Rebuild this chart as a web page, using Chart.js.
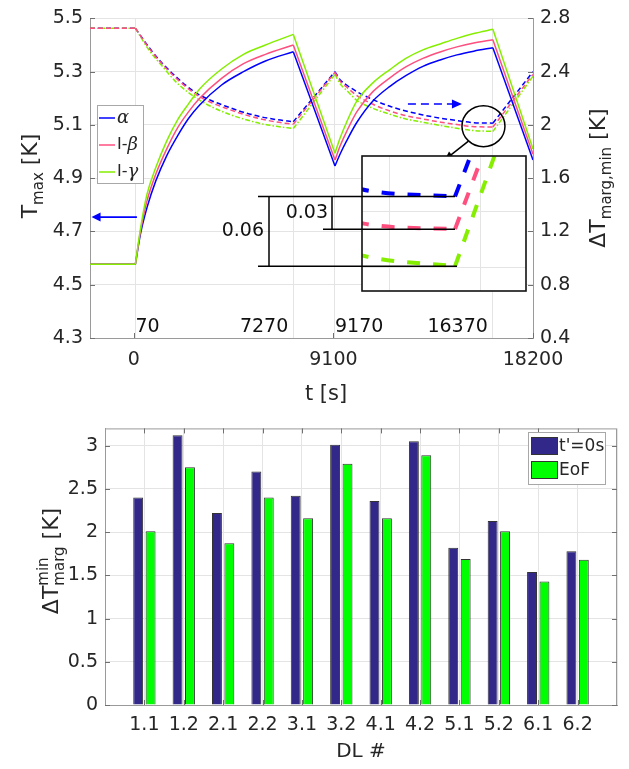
<!DOCTYPE html>
<html><head><meta charset="utf-8">
<script src="https://cdn.jsdelivr.net/npm/chart.js@4.4.1/dist/chart.umd.min.js"></script>
<style>
html,body{margin:0;padding:0;background:#fff;}
#wrap{position:relative;width:629px;height:769px;overflow:hidden;background:#fff;}
canvas{position:absolute;}
</style></head><body>
<div id="wrap">
<canvas id="top" width="629" height="410" style="left:0;top:0"></canvas>
<canvas id="inset" width="330" height="150" style="left:200px;top:150px"></canvas>
<canvas id="bars" width="629" height="359" style="left:0;top:410px"></canvas>
</div>
<script>
// ---------------- DATA ----------------
// Top panel: time axis [s]
const tSolid = [-2000, 70, 300, 600, 1000, 1500, 2000, 2500, 3000, 4000, 5000, 6000, 7270, 9170, 9400, 9700, 10171, 10900, 11676, 12400, 13181, 14000, 14732, 15500, 16370, 18200];
const tmaxAlpha = [4.577, 4.577, 4.69, 4.79, 4.89, 4.985, 5.06, 5.125, 5.175, 5.25, 5.30, 5.34, 5.375, 4.946, 4.99, 5.04, 5.11, 5.19, 5.245, 5.285, 5.32, 5.345, 5.363, 5.377, 5.39, 4.968];
const tmaxBeta  = [4.577, 4.577, 4.70, 4.815, 4.915, 5.01, 5.09, 5.15, 5.20, 5.275, 5.33, 5.365, 5.40, 4.968, 5.02, 5.075, 5.15, 5.225, 5.277, 5.318, 5.35, 5.375, 5.393, 5.408, 5.42, 4.99];
const tmaxGamma = [4.577, 4.577, 4.71, 4.84, 4.94, 5.04, 5.12, 5.18, 5.235, 5.31, 5.365, 5.40, 5.44, 4.994, 5.05, 5.11, 5.19, 5.258, 5.308, 5.35, 5.382, 5.405, 5.425, 5.443, 5.459, 5.01];

const tDash = [-2000, 70, 700, 1231, 2000, 2782, 3500, 4287, 5000, 5792, 6500, 7270, 9170, 9400, 9700, 10171, 10900, 11676, 12400, 13181, 14000, 14732, 15436, 16370, 18200];
const dtAlpha = [2.726, 2.726, 2.58, 2.475, 2.35, 2.246, 2.185, 2.135, 2.095, 2.061, 2.04, 2.024, 2.40, 2.34, 2.30, 2.25, 2.19, 2.14, 2.105, 2.075, 2.05, 2.033, 2.018, 2.013, 2.40];
const dtBeta  = [2.726, 2.726, 2.575, 2.468, 2.34, 2.235, 2.17, 2.12, 2.08, 2.045, 2.022, 2.005, 2.395, 2.33, 2.285, 2.22, 2.155, 2.105, 2.07, 2.045, 2.02, 2.003, 1.988, 1.984, 2.38];
const dtGamma = [2.726, 2.726, 2.56, 2.453, 2.31, 2.209, 2.14, 2.084, 2.045, 2.01, 1.99, 1.973, 2.38, 2.31, 2.26, 2.185, 2.125, 2.08, 2.045, 2.02, 1.995, 1.975, 1.959, 1.951, 2.365];

const seriesLabels = ['α', 'I-β', 'I-γ'];
const phaseBreaks = [70, 7270, 9170, 16370];   // operating-phase switch times

const leftTickVals = [4.3, 4.5, 4.7, 4.9, 5.1, 5.3, 5.5];
const leftTickLabels = ['4.3', '4.5', '4.7', '4.9', '5.1', '5.3', '5.5'];
const rightTickVals = [0.4, 0.8, 1.2, 1.6, 2.0, 2.4, 2.8];
const rightTickLabels = ['0.4', '0.8', '1.2', '1.6', '2', '2.4', '2.8'];
const xTickVals = [0, 70, 7270, 9100, 9170, 16370, 18200];
const xTickLabels = ['0', '', '', '9100', '', '', '18200'];
const periodVals = [70, 7270, 9170, 16370];
const periodLabels = ['70', '7270', '9170', '16370'];

// inset zoom
const insetXGrid = [15650, 16650];
const insetYGrid = [1.95, 2.0];
const cornerTime = 16370;
const diffLabels = ['0.03', '0.06'];

// Bottom panel
const dlCats = ['1.1', '1.2', '2.1', '2.2', '3.1', '3.2', '4.1', '4.2', '5.1', '5.2', '6.1', '6.2'];
const dtStart = [2.40, 3.12, 2.22, 2.70, 2.42, 3.01, 2.36, 3.05, 1.82, 2.13, 1.54, 1.78];
const dtEoF   = [2.01, 2.75, 1.87, 2.40, 2.16, 2.79, 2.16, 2.89, 1.69, 2.01, 1.43, 1.68];
const barTickVals = [0, 0.5, 1, 1.5, 2, 2.5, 3];
const barTickLabels = ['0', '0.5', '1', '1.5', '2', '2.5', '3'];
const barSeriesLabels = ["t'=0s", 'EoF'];

// ---------------- STYLE ----------------
const FONT = "'DejaVu Sans', 'Liberation Sans', sans-serif";
const TXT = '#262626';
const COL = {a: '#0000ff', b: '#ff4f7f', g: '#86ee00'};
const GRID = '#e4e4e4';
const AXIS = '#9a9a9a';

const setTicks = vals => s => { s.ticks = vals.map(v => ({value: v})); };

// split a series into its operating phases (each drawn as its own smooth piece)
function phaseSplit(ts, vs) {
  const out = []; let cur = [];
  ts.forEach((t, i) => {
    cur.push({x: t, y: vs[i]});
    if (phaseBreaks.includes(t)) { out.push(cur); cur = [{x: t, y: vs[i]}]; }
  });
  if (cur.length > 1) out.push(cur);
  return out;
}
function seriesDatasets(ts, vs, style, legendRank) {
  return phaseSplit(ts, vs).map((data, k) => Object.assign({
    data, cubicInterpolationMode: 'monotone', legend: k === 0 ? legendRank : undefined
  }, style));
}

function line(ctx, x1, y1, x2, y2) { ctx.beginPath(); ctx.moveTo(x1, y1); ctx.lineTo(x2, y2); ctx.stroke(); }
function arrowHead(ctx, x1, y1, x2, y2, len, half, color) {
  const a = Math.atan2(y2 - y1, x2 - x1);
  ctx.fillStyle = color; ctx.beginPath(); ctx.moveTo(x2, y2);
  ctx.lineTo(x2 - len * Math.cos(a) + half * Math.sin(a), y2 - len * Math.sin(a) - half * Math.cos(a));
  ctx.lineTo(x2 - len * Math.cos(a) - half * Math.sin(a), y2 - len * Math.sin(a) + half * Math.cos(a));
  ctx.closePath(); ctx.fill();
}
function fontStr(p) { return `${p.italic ? 'italic ' : ''}${p.size}px ${p.family || FONT}`; }
function drawParts(ctx, cx, cy, rot, parts) {
  ctx.save(); ctx.translate(cx, cy); ctx.rotate(rot);
  ctx.textBaseline = 'alphabetic'; ctx.textAlign = 'left';
  const widths = parts.map(p => {
    const items = p.stack || [p];
    return Math.max(...items.map(q => { ctx.font = fontStr(q); return ctx.measureText(q.t).width; }));
  });
  const total = widths.reduce((a, b) => a + b, 0);
  let x = -total / 2;
  parts.forEach((p, i) => {
    (p.stack || [p]).forEach(q => { ctx.font = fontStr(q); ctx.fillStyle = q.color || TXT; ctx.fillText(q.t, x, q.dy || 0); });
    x += widths[i];
  });
  ctx.restore();
}
function drawLabelGreek(ctx, text, x, y, size) {
  let cx = x;
  for (const ch of text) {
    const greek = /[α-ω]/.test(ch);
    ctx.font = greek ? `italic ${size + 2}px 'DejaVu Serif', serif` : `${size}px ${FONT}`;
    ctx.fillText(ch, cx, y);
    cx += ctx.measureText(ch).width;
  }
}

// ---------------- TOP CHART ----------------
const topDecor = {
  id: 'topDecor',
  afterDraw(chart) {
    const {ctx, chartArea: ca, scales: {x, y, y2}} = chart;
    ctx.save();
    ctx.strokeStyle = '#707070'; ctx.lineWidth = 1;
    leftTickVals.forEach(v => { const py = Math.round(y.getPixelForValue(v)) + 0.5; line(ctx, ca.left, py, ca.left + 5, py); });
    rightTickVals.forEach(v => { const py = Math.round(y2.getPixelForValue(v)) + 0.5; line(ctx, ca.right - 5, py, ca.right, py); });
    xTickVals.forEach((v, i) => { if (xTickLabels[i]) { const px = Math.round(x.getPixelForValue(v)) + 0.5; line(ctx, px, ca.bottom, px, ca.bottom - 5); } });

    ctx.font = `19px ${FONT}`; ctx.fillStyle = '#111'; ctx.textBaseline = 'middle';
    periodVals.forEach((v, i) => {
      const px = x.getPixelForValue(v);
      const left = i % 2 === 0;
      ctx.textAlign = left ? 'left' : 'right';
      ctx.fillText(periodLabels[i], px + (left ? 0 : -5), ca.bottom - 11);
    });

    // legend
    const lx = 97, ly = 105, lw = 46, lh = 78;
    ctx.fillStyle = '#fff'; ctx.fillRect(lx, ly, lw, lh);
    ctx.strokeStyle = '#a8a8a8'; ctx.lineWidth = 1; ctx.strokeRect(lx + 0.5, ly + 0.5, lw, lh);
    const solid = chart.data.datasets.filter(d => d.legend).sort((a, b) => a.legend - b.legend);
    solid.forEach((d, i) => {
      const yy = ly + 13 + i * 27;
      ctx.strokeStyle = d.borderColor; ctx.lineWidth = 1.5; line(ctx, lx + 2, yy, lx + 18, yy);
      ctx.fillStyle = TXT; ctx.textAlign = 'left'; ctx.textBaseline = 'middle';
      drawLabelGreek(ctx, d.label, lx + 20, yy, 16);
    });

    // blue arrow (solid -> left axis)
    const ay = y.getPixelForValue(4.754);
    const ax1 = x.getPixelForValue(140), ax2 = x.getPixelForValue(-1930);
    ctx.strokeStyle = COL.a; ctx.lineWidth = 1.6; line(ctx, ax1, ay, ax2 + 6, ay);
    arrowHead(ctx, ax1, ay, ax2, ay, 9, 4.5, COL.a);
    // blue dashed arrow (dashed -> right axis)
    const by = y2.getPixelForValue(2.157);
    const bx1 = x.getPixelForValue(12497), bx2 = x.getPixelForValue(14960);
    ctx.setLineDash([8, 5]); line(ctx, bx1, by, bx2 - 8, by); ctx.setLineDash([]);
    arrowHead(ctx, bx1, by, bx2, by, 10, 4.5, COL.a);

    // circle + arrow to inset
    const cx = x.getPixelForValue(15941), cy = y2.getPixelForValue(1.991);
    ctx.strokeStyle = '#000'; ctx.lineWidth = 1.5;
    ctx.beginPath(); ctx.ellipse(cx, cy, 21.5, 20.5, 0, 0, Math.PI * 2); ctx.stroke();
    const p1 = [cx - 15, cy + 15], p2 = [cx - 39, cy + 34];
    line(ctx, p1[0], p1[1], p2[0] + 4, p2[1] - 3.3);
    arrowHead(ctx, p1[0], p1[1], p2[0], p2[1], 9, 4, '#000');

    // axis titles
    drawParts(ctx, 37, 176, -Math.PI / 2, [{t: 'T', size: 22}, {t: 'max', size: 15, dy: 6}, {t: ' [K]', size: 22}]);
    drawParts(ctx, 605, 178, -Math.PI / 2, [{t: 'ΔT', size: 22}, {t: 'marg,min', size: 15, dy: 6}, {t: ' [K]', size: 22}]);
    ctx.font = `21px ${FONT}`; ctx.fillStyle = TXT; ctx.textAlign = 'center'; ctx.textBaseline = 'middle';
    ctx.fillText('t [s]', 326, 395);
    ctx.restore();
  }
};

const solidStyle = c => ({borderColor: c, borderWidth: 1.5, yAxisID: 'y'});
const dashStyle = (c, dash) => ({borderColor: c, borderWidth: 1.5, borderDash: dash, yAxisID: 'y2'});

new Chart(document.getElementById('top'), {
  type: 'line',
  data: {
    datasets: [
      ...seriesDatasets(tSolid, tmaxGamma, Object.assign({label: seriesLabels[2]}, solidStyle(COL.g)), 3),
      ...seriesDatasets(tSolid, tmaxBeta, Object.assign({label: seriesLabels[1]}, solidStyle(COL.b)), 2),
      ...seriesDatasets(tSolid, tmaxAlpha, Object.assign({label: seriesLabels[0]}, solidStyle(COL.a)), 1),
      ...seriesDatasets(tDash, dtBeta, Object.assign({label: seriesLabels[1] + ' ΔT'}, dashStyle(COL.b, [5, 3])), 0),
      ...seriesDatasets(tDash, dtGamma, Object.assign({label: seriesLabels[2] + ' ΔT'}, dashStyle(COL.g, [5, 2, 1.5, 2])), 0),
      ...seriesDatasets(tDash, dtAlpha, Object.assign({label: seriesLabels[0] + ' ΔT'}, dashStyle(COL.a, [5, 3])), 0)
    ]
  },
  options: {
    responsive: false, animation: false,
    layout: {padding: {top: 13, left: 0, right: 0, bottom: 0}},
    plugins: {legend: {display: false}, tooltip: {enabled: false}},
    elements: {point: {radius: 0}},
    scales: {
      x: {
        type: 'linear', min: -2000, max: 18200,
        afterFit: s => { s.height = 72; },
        afterBuildTicks: setTicks(xTickVals),
        ticks: {autoSkip: false, maxRotation: 0, padding: 11, font: {family: FONT, size: 19}, color: TXT,
          callback: (v, i) => xTickLabels[i]},
        grid: {drawTicks: false, color: c => (c.tick && xTickLabels[c.index]) ? 'rgba(0,0,0,0)' : GRID},
        border: {color: AXIS}
      },
      y: {
        position: 'left', min: 4.3, max: 5.5,
        afterFit: s => { s.width = 90; },
        afterBuildTicks: setTicks(leftTickVals),
        ticks: {padding: 7, font: {family: FONT, size: 19}, color: TXT, callback: (v, i) => leftTickLabels[i]},
        grid: {drawTicks: false, color: GRID},
        border: {color: AXIS}
      },
      y2: {
        position: 'right', min: 0.4, max: 2.8,
        afterFit: s => { s.width = 96; },
        afterBuildTicks: setTicks(rightTickVals),
        ticks: {padding: 7, font: {family: FONT, size: 19}, color: TXT, callback: (v, i) => rightTickLabels[i]},
        grid: {drawTicks: false, drawOnChartArea: false},
        border: {color: AXIS}
      }
    }
  },
  plugins: [topDecor]
});

// ---------------- INSET ----------------
const insetBg = {
  id: 'insetBg',
  beforeDraw(chart) {
    const {ctx, chartArea: ca} = chart;
    ctx.save(); ctx.fillStyle = '#fff'; ctx.fillRect(ca.left, ca.top, ca.right - ca.left, ca.bottom - ca.top); ctx.restore();
  },
  afterDraw(chart) {
    const {ctx, chartArea: ca, scales: {x, y}} = chart;
    ctx.save();
    ctx.strokeStyle = '#111'; ctx.lineWidth = 1.6;
    ctx.strokeRect(ca.left, ca.top, ca.right - ca.left, ca.bottom - ca.top);
    const ci = tDash.indexOf(cornerTime);
    const cx = x.getPixelForValue(cornerTime);
    const yb = y.getPixelForValue(dtAlpha[ci]), yr = y.getPixelForValue(dtBeta[ci]), yg = y.getPixelForValue(dtGamma[ci]);
    ctx.lineWidth = 1.5; ctx.strokeStyle = '#000';
    line(ctx, 58, yb, cx, yb);
    line(ctx, 123, yr, cx, yr);
    line(ctx, 58, yg, cx + 2, yg);
    line(ctx, 69, yb, 69, yg);
    line(ctx, 132, yb, 132, yr);
    ctx.font = `19px ${FONT}`; ctx.fillStyle = '#111'; ctx.textAlign = 'right'; ctx.textBaseline = 'middle';
    ctx.fillText(diffLabels[1], 64, (yb + yg) / 2);
    ctx.fillText(diffLabels[0], 128, (yb + yr) / 2);
    ctx.restore();
  }
};
const insetStyle = c => ({borderColor: c, borderWidth: 4, borderDash: [13, 13]});
new Chart(document.getElementById('inset'), {
  type: 'line',
  data: {
    datasets: [
      ...seriesDatasets(tDash, dtAlpha, insetStyle(COL.a), 0),
      ...seriesDatasets(tDash, dtBeta, insetStyle(COL.b), 0),
      ...seriesDatasets(tDash, dtGamma, insetStyle(COL.g), 0)
    ]
  },
  options: {
    responsive: false, animation: false,
    layout: {padding: {left: 162, right: 4, top: 6, bottom: 9}},
    plugins: {legend: {display: false}, tooltip: {enabled: false}},
    elements: {point: {radius: 0}},
    scales: {
      x: {type: 'linear', min: 15348, max: 17150, afterBuildTicks: setTicks(insetXGrid),
        ticks: {display: false}, grid: {drawTicks: false, color: GRID}, border: {display: false}, afterFit: s => { s.height = 0; }},
      y: {min: 1.929, max: 2.049, afterBuildTicks: setTicks(insetYGrid),
        ticks: {display: false}, grid: {drawTicks: false, color: GRID}, border: {display: false}, afterFit: s => { s.width = 0; }}
    }
  },
  plugins: [insetBg]
});

// ---------------- BAR CHART ----------------
const barDecor = {
  id: 'barDecor',
  afterDraw(chart) {
    const {ctx, chartArea: ca, scales: {x, y}} = chart;
    ctx.save();
    ctx.strokeStyle = AXIS; ctx.lineWidth = 1;
    ctx.strokeRect(ca.left + 0.5, ca.top + 0.5, ca.right - ca.left - 1, ca.bottom - ca.top);
    ctx.strokeStyle = '#707070';
    dlCats.forEach((c, i) => {
      const px = Math.round(x.getPixelForValue(i + 1)) + 0.5;
      line(ctx, px, ca.top, px, ca.top + 5); line(ctx, px, ca.bottom, px, ca.bottom - 5);
    });
    barTickVals.forEach(v => {
      const py = Math.round(y.getPixelForValue(v)) + 0.5;
      line(ctx, ca.left, py, ca.left + 5, py); line(ctx, ca.right - 5, py, ca.right, py);
    });
    const lx = 528, ly = 22, lw = 77, lh = 52;
    ctx.fillStyle = '#fff'; ctx.fillRect(lx, ly, lw, lh);
    ctx.strokeStyle = '#a8a8a8'; ctx.strokeRect(lx + 0.5, ly + 0.5, lw, lh);
    chart.data.datasets.forEach((d, i) => {
      const sy = ly + 5 + i * 24;
      ctx.fillStyle = d.backgroundColor; ctx.fillRect(lx + 3, sy, 27, 18);
      ctx.strokeStyle = '#333'; ctx.strokeRect(lx + 3.5, sy + 0.5, 26, 17);
      ctx.fillStyle = TXT; ctx.font = `17px ${FONT}`; ctx.textAlign = 'left'; ctx.textBaseline = 'middle';
      ctx.fillText(d.label, lx + 31, sy + 10);
    });
    drawParts(ctx, 58, 151, -Math.PI / 2, [{t: 'ΔT', size: 22}, {stack: [{t: 'min', size: 15, dy: -10}, {t: 'marg', size: 15, dy: 6}]}, {t: ' [K]', size: 22}]);
    ctx.font = `20px ${FONT}`; ctx.fillStyle = TXT; ctx.textAlign = 'center'; ctx.textBaseline = 'middle';
    ctx.fillText('DL #', 361, 342);
    ctx.restore();
  }
};
new Chart(document.getElementById('bars'), {
  type: 'bar',
  data: {
    labels: ['', ...dlCats, ''],
    datasets: [
      {label: barSeriesLabels[0], data: [null, ...dtStart, null], backgroundColor: '#31288a', borderColor: '#333', borderWidth: 1, categoryPercentage: 0.63, barPercentage: 0.8},
      {label: barSeriesLabels[1], data: [null, ...dtEoF, null], backgroundColor: '#00ff00', borderColor: '#333', borderWidth: 1, categoryPercentage: 0.63, barPercentage: 0.8}
    ]
  },
  options: {
    responsive: false, animation: false,
    layout: {padding: {top: 10, right: 12, left: 0, bottom: 0}},
    plugins: {legend: {display: false}, tooltip: {enabled: false}},
    scales: {
      x: {
        offset: false,
        afterFit: s => { s.height = 64; },
        ticks: {autoSkip: false, maxRotation: 0, padding: 9, font: {family: FONT, size: 19}, color: TXT},
        grid: {offset: false, drawTicks: false, color: GRID},
        border: {color: AXIS}
      },
      y: {
        min: 0, max: 3.2,
        afterFit: s => { s.width = 105; },
        afterBuildTicks: setTicks(barTickVals),
        ticks: {padding: 7, font: {family: FONT, size: 19}, color: TXT, callback: (v, i) => barTickLabels[i]},
        grid: {drawTicks: false, color: GRID},
        border: {color: AXIS}
      }
    }
  },
  plugins: [barDecor]
});
</script>
</body></html>
